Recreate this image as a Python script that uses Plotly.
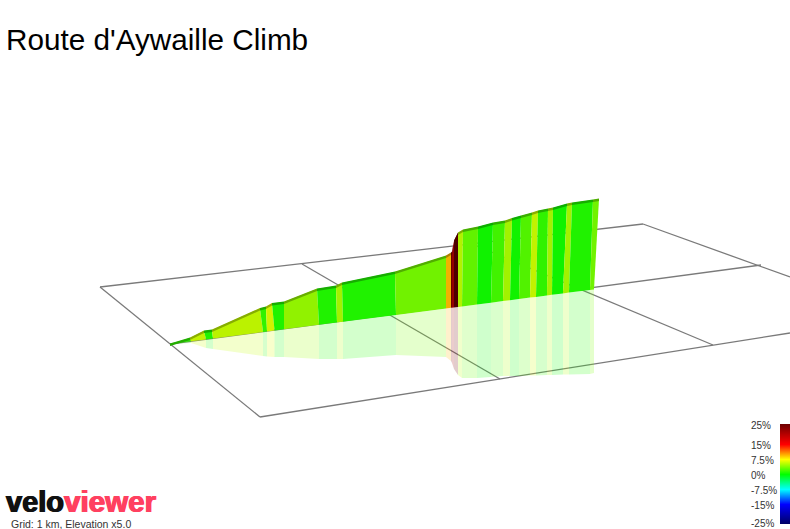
import numpy as np
import plotly.graph_objects as go

TITLE = "Route d'Aywaille Climb"
CAPTION = "Grid: 1 km, Elevation x5.0"

# Route, in picture units
top_x = [170,190,204,212,260,266,272,284,317,336,342,395,446,451,452,454,458,463,478,493,505,512,521,532,538,548,553,567,572,593,599]
top_y = [344,338,331,330,308.5,307,303.5,302,289,286,283,272,256,253,252,241,233,230,227,223,221,218.5,216,213,211,209,208,204,203,200,199]
base_x = [170,191,206,213,263,267,274.5,284,319,337,343,396,446,451,452,454,458,462,477,491,503,510,519,530,536,547,552,563,569,590,594]
base_y = [344,341.3,339.4,338.5,332,331.5,330.6,329.3,324.8,322.5,321.7,314.9,308.5,307.8,307.7,307.4,306.9,306.4,304.5,302.7,301.1,300.2,299,297.6,296.9,295.5,294.8,293.4,292.6,289.9,289.4]
shadow_y = [344,343,348,349,356,356.5,357,357,359,359,359,355,357,361,363,369,375,378,378,377,376,376,376,375.5,375.5,375,375,374.5,374.5,374,373]
gradient = [1.5,6,1,5.8,1.5,6.5,1,4.5,1,5,1,3.5,9.5,25,22,25,5.5,3,0.5,2,5,0.5,2.5,6,1.5,5,0.5,5,1,3.5]
wall_shade = [0.95]*15 + [0.7] + [0.95]*14

# Floor grid lines
grid_x0 = [100,643,100,260,170,302,470]
grid_y0 = [287,224,287,417,344,264,243]
grid_x1 = [643,790,260,790,761,500,713]
grid_y1 = [224,277,417,333,265,379,345]

# Gradient legend
legend_ticks = [25,15,7.5,0,-7.5,-15,-25]
legend_labels = ["25%","15%","7.5%","0%","-7.5%","-15%","-25%"]
legend_nudge = [-1,-1,-1,-1,-1,-1,1]
stop_pct = [-25,-15,-7.5,0,7.5,15,25]
stop_rgb = [(0,0,96),(0,0,255),(0,255,255),(0,255,0),(255,255,0),(255,0,0),(112,0,0)]

def grad_rgb(g, shade=1.0):
    return tuple(int(round(float(np.interp(g, stop_pct, [c[i] for c in stop_rgb])) * shade)) for i in range(3))

def css(rgb, a=None):
    if a is None:
        return "rgb(%d,%d,%d)" % rgb
    return "rgba(%d,%d,%d,%.2f)" % (rgb + (a,))

def poly(xs, ys, color):
    return go.Scatter(x=xs + xs[:1], y=ys + ys[:1], mode="lines", fill="toself", fillcolor=color,
                      line=dict(width=0, color=color), hoverinfo="skip", showlegend=False,
                      xaxis="x", yaxis="y")

fig = go.Figure()
for a, b, c, d in zip(grid_x0, grid_y0, grid_x1, grid_y1):
    fig.add_trace(go.Scatter(x=[a, c], y=[b, d], mode="lines", line=dict(color="#7a7a7a", width=1.3),
                             hoverinfo="skip", showlegend=False))
n = len(gradient)
for i in range(n):
    fig.add_trace(poly([base_x[i], base_x[i+1], base_x[i+1], base_x[i]],
                       [base_y[i], base_y[i+1], shadow_y[i+1], shadow_y[i]],
                       css(grad_rgb(gradient[i]), 0.2)))
for i in range(n):
    fig.add_trace(poly([top_x[i], top_x[i+1], base_x[i+1], base_x[i]],
                       [top_y[i], top_y[i+1], base_y[i+1], base_y[i]],
                       css(grad_rgb(gradient[i], wall_shade[i]))))
for i in range(n):
    fig.add_trace(poly([top_x[i], top_x[i+1], top_x[i+1], top_x[i]],
                       [top_y[i]-0.5, top_y[i+1]-0.5, top_y[i+1]+2, top_y[i]+2],
                       css(grad_rgb(gradient[i], 0.68))))

levels = list(np.linspace(-25, 25, 101))
fig.add_trace(go.Heatmap(z=[[v] for v in levels], y=levels, x=[0], xaxis="x2", yaxis="y2",
                         zmin=-25, zmax=25, showscale=False, hoverinfo="skip",
                         colorscale=[[(p+25)/50, css(c)] for p, c in zip(stop_pct, stop_rgb)]))

heavy = "0.7px 0 0 %s, -0.7px 0 0 %s"
ann = [
    dict(text=TITLE, x=5, y=39.5, font=dict(size=29.7, color="#000")),
    dict(text="velo", x=4.5, y=501.5, font=dict(size=29, color="#111", weight="bold", shadow=heavy % ("#111", "#111"))),
    dict(text="viewer", x=63, y=501.5, font=dict(size=29.6, color="#ff4060", weight="bold", shadow=heavy % ("#ff4060", "#ff4060"))),
    dict(text=CAPTION, x=10, y=524, font=dict(size=10.5, color="#333")),
]
annotations = [dict(a, xref="x", yref="y", xanchor="left", yanchor="middle", showarrow=False,
                    borderpad=0, align="left") for a in ann]
for v, lab, nudge in zip(legend_ticks, legend_labels, legend_nudge):
    annotations.append(dict(text=lab, x=750, y=v, xref="x", yref="y2", xanchor="left", yanchor="middle",
                            yshift=nudge, showarrow=False, borderpad=0, font=dict(size=10, color="#333")))

fig.update_layout(
    width=790, height=529, margin=dict(l=0, r=0, t=0, b=0, pad=0),
    paper_bgcolor="white", plot_bgcolor="white", showlegend=False,
    font=dict(family="Liberation Sans, Arial, sans-serif"),
    xaxis=dict(range=[0, 790], visible=False, domain=[0, 1], fixedrange=True),
    yaxis=dict(range=[529, 0], visible=False, domain=[0, 1], fixedrange=True),
    xaxis2=dict(visible=False, domain=[780/790, 1], anchor="y2", fixedrange=True),
    yaxis2=dict(visible=False, range=[-25, 25], domain=[5/529, 105/529], anchor="x2", fixedrange=True),
    annotations=annotations,
)
fig.write_html("out.html", post_script="document.body.style.margin='0';document.body.style.overflow='hidden';",
               config=dict(displayModeBar=False))
